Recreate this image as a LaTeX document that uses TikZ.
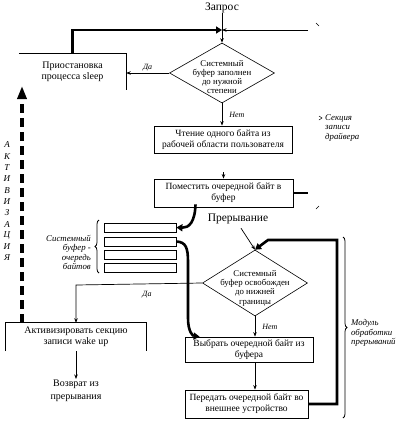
\documentclass[tikz,border=0pt]{standalone}
\usepackage{fontspec}
\setmainfont{Liberation Serif}
\usetikzlibrary{arrows.meta,shapes.geometric,decorations.pathreplacing,calc}
\begin{document}
\begin{tikzpicture}[x=1pt,y=-1pt,
  arr/.style={line width=0.7pt,-{Stealth[length=4.5pt,width=3.5pt]}},
  fat/.style={line width=2.6pt},
  fatarr/.style={line width=2.6pt,-{Triangle[length=6pt,width=7pt]}},
  dasharr/.style={line width=3.4pt,dash pattern=on 9pt off 5pt,-{Triangle[length=13pt,width=9pt]}},
  box/.style={draw,line width=0.8pt,align=center,inner sep=1pt,font=\fontsize{9.5}{11}\selectfont},
  openbox/.style={align=center,inner sep=1pt,font=\fontsize{10}{11.5}\selectfont},
  dia/.style={draw,diamond,line width=0.6pt,inner sep=0pt},
  dtext/.style={align=center,inner sep=0pt,font=\fontsize{8.8}{9.3}\selectfont},
  lbl/.style={font=\itshape\fontsize{8}{9}\selectfont,inner sep=1pt},
  side/.style={font=\itshape\fontsize{8.8}{9.5}\selectfont,inner sep=0pt},
  big/.style={font=\fontsize{11.5}{13}\selectfont,inner sep=0pt},
  buf/.style={draw,line width=0.8pt,minimum width=72pt,minimum height=9pt,inner sep=0pt},
  brc/.style={decorate,decoration={brace,amplitude=4pt},line width=0.8pt}
]
\useasboundingbox (0,0) rectangle (409,421);

% --- top part: write section
\node[big] (zapros) at (222,8) {Запрос};
\coordinate (j1) at (222,30);
\coordinate (rs) at (308,30);

\node[openbox,minimum width=107pt,minimum height=36pt] (sleep) at (72.5,72) {Приостановка\\процесса sleep};
\draw[line width=0.8pt] (sleep.north west) -- (sleep.north east) -- (sleep.south east);

\node[dia,minimum width=105pt,minimum height=60pt] (d1) at (222,73) {};
\node[dtext] (d1t) at ($(d1)+(0,4)$) {Системный\\буфер заполнен\\до нужной\\степени};

\node[box,minimum width=138pt,minimum height=27pt] (chten) at (223,139.5) {Чтение одного байта из\\рабочей области пользователя};
\node[box,minimum width=139pt,minimum height=28pt] (pomest) at (223.5,193) {Поместить очередной байт в\\буфер};
\coordinate (st) at (223.5,172);
\coordinate (ps) at (308,193);

\draw[arr] (zapros.south) -- (d1.north);
\draw[fatarr] (sleep.north) |- (j1);
\draw[arr] (rs) -- (j1);
\draw[arr] (d1.west) -- (d1.west -| sleep.east) node[lbl,midway,above=1pt] {Да};
\draw[arr] (d1.south) -- (d1.south |- chten.north) node[lbl,midway,right=6pt] {Нет};
\draw[arr] (st) -- (pomest.north);
\draw[fat] (pomest.east) -- (ps);

% brace ticks of the write section
\draw[line width=0.5pt] (316,23) -- (319,26);
\draw[line width=0.5pt] (319,116) -- (322,118) -- (319,120);
\draw[line width=0.5pt] (316,209) -- (319,206);
\node[side,anchor=west,align=left] (sekc) at (325,128) {Секция\\записи\\драйвера};

% --- buffer
\node[buf] (b1) at (140,227.5) {};
\node[buf] (b2) at (140,241.5) {};
\node[buf] (b3) at (140,255) {};
\node[buf] (b4) at (140,268) {};
\draw[brc] (99,273) -- (99,220);
\node[side,anchor=east,align=right] (buft) at (91,252.5) {Системный\\буфер -\\очередь\\байтов};

\draw[fatarr] ($(pomest.south)+(-28,-3)$) .. controls (195,222) and (189,228) .. (b1.east);

% --- interrupt module
\node[big] (prer) at (238,219) {Прерывание};
\node[dia,minimum width=105pt,minimum height=66pt] (d2) at (255,283) {};
\node[dtext] (d2t) at ($(d2)+(0,5)$) {Системный\\буфер освобожден\\до нижней\\границы};
\node[box,minimum width=128pt,minimum height=25pt] (vyb) at (249,349.5) {Выбрать очередной байт из\\буфера};
\node[box,minimum width=123pt,minimum height=28pt] (perep) at (246.5,404) {Передать очередной байт во\\внешнее устройство};
\coordinate (lt) at (337,240);
\coordinate (lk) at (268,240);

\draw[arr] (prer.south) ++(3,4) -- (d2.north);
\draw[fatarr] (perep.east) -| (lt) -- (lk) -- (d2.north);
\draw[arr] (d2.south) -- (d2.south |- vyb.north) node[lbl,midway,right=6pt] {Нет};
\draw[arr] (vyb.south -| d2.south) -- (perep.north -| d2.south);

\draw[fatarr] (b2.east) .. controls (186,242) and (188,248) .. (188,262) -- (188,318) .. controls (188,332) and (193,336) .. ($(vyb.north west)+(15,0)$);

\node[openbox,minimum width=140pt,minimum height=28pt] (akt) at (76,337) {Активизировать секцию\\записи wake up};
\draw[line width=0.8pt] (akt.south west) -- (akt.north west) -- (akt.north east) -- (akt.south east);
\coordinate (dk) at (76,285);
\draw[arr] (d2.west) -- (dk) -- (akt.north);
\node[lbl] (da2) at (147,295) {Да};

\node[openbox,font=\fontsize{10}{13}\selectfont] (vozv) at (76,391) {Возврат из\\прерывания};
\draw[arr] (akt.south) -- (vozv.north);

\draw[brc] (343,237) -- (343,418);
\node[side,anchor=west,align=left] (modul) at (351,333) {Модуль\\обработки\\прерываний};

% --- activation arrow
\coordinate (dtop) at (22,86);
\draw[dasharr] (akt.north -| dtop) -- (dtop);
\foreach \l [count=\i] in {А,К,Т,И,В,И,З,А,Ц,И,Я}
  \node[side,font=\itshape\fontsize{9}{10}\selectfont] (ak\i) at (7,{145+11.3*(\i-1)}) {\l};
\end{tikzpicture}
\end{document}
